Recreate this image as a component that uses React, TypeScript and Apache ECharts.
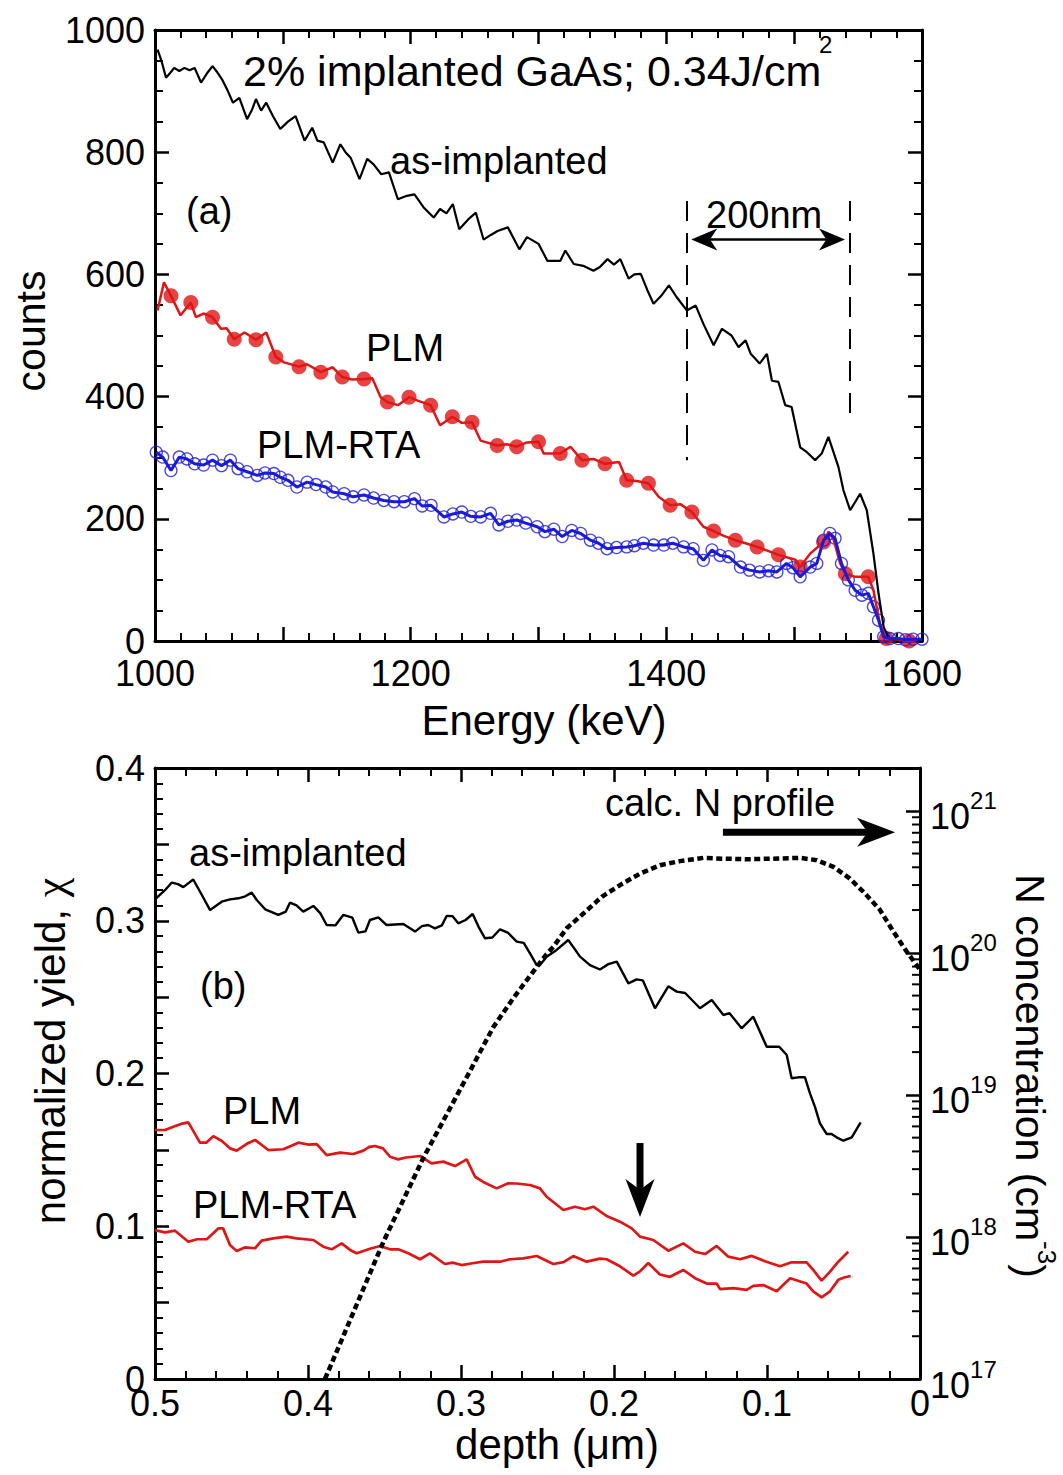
import React, { useEffect, useRef } from "react";
import * as echarts from "echarts";

const FONT = '"Liberation Sans", Arial, Helvetica, sans-serif';
const BLACK = "#000000";
const RED = "#e01515";
const BLUE = "#1a1ad8";

// ---------------- panel (a): RBS spectra ----------------
const ENERGY_AS = [1002, 1005, 1008.6, 1012, 1015, 1019, 1023, 1027, 1031, 1036, 1041, 1045, 1049, 1053, 1057, 1061, 1066, 1072, 1076, 1079, 1083, 1087, 1092, 1098, 1104, 1110, 1117, 1123, 1127, 1132, 1139, 1145, 1149, 1153, 1160, 1166, 1171, 1177, 1183, 1190, 1196, 1203, 1210, 1218, 1223, 1228, 1233, 1238, 1245, 1251, 1257, 1263, 1268, 1276, 1285, 1291, 1300, 1307, 1317, 1321, 1327.6, 1335, 1343, 1348, 1354, 1359, 1364, 1370.5, 1375, 1380, 1385, 1390, 1396, 1402, 1408, 1416, 1423, 1429, 1437, 1443.5, 1451, 1456.5, 1462, 1466, 1473, 1478.7, 1482.6, 1487.7, 1493, 1498, 1504.7, 1510, 1516.4, 1521.6, 1526.8, 1534.6, 1538.5, 1543.8, 1551.6, 1556.8, 1562, 1566, 1570, 1574, 1580, 1590, 1600];
const COUNTS_AS = [968, 950, 922, 930, 938, 933, 938, 934, 938, 914, 930, 941, 930, 917, 900, 881, 889, 854, 870, 887, 868, 881, 860, 838, 850, 859, 819, 840, 819, 816, 783, 813, 800, 791, 756, 789, 780, 764, 767, 723, 728, 731, 710, 693, 707, 700, 715, 674, 690, 701, 657, 665, 671, 677, 641, 661, 650, 622, 622, 639, 617, 614, 606, 612, 625, 616, 625, 593, 600, 601, 575, 552, 565, 582, 563, 541, 549, 519, 484, 511, 500, 481, 492, 470, 454, 470, 426, 424, 386, 383, 317, 309, 296, 307, 334, 285, 247, 214, 241, 214, 143, 78, 23, 4, 2, 1, 2];

const ENERGY_PLM = [1002, 1007, 1012.5, 1020, 1028, 1032, 1038, 1045, 1051.6, 1056, 1062, 1070, 1079, 1087, 1094.5, 1101, 1112.7, 1119, 1129.7, 1139, 1146.5, 1154, 1163.5, 1170, 1176.5, 1181.8, 1190, 1198.7, 1206, 1215.6, 1223, 1232.6, 1240, 1248, 1254.7, 1267.7, 1275, 1283, 1291, 1300, 1304, 1317, 1325, 1334, 1343, 1352, 1363, 1369, 1377, 1386, 1394, 1403, 1411, 1420, 1429, 1437, 1445, 1454, 1462, 1471, 1479, 1487.7, 1501, 1504.7, 1512.5, 1523, 1527, 1531, 1536, 1540, 1548, 1558, 1562, 1567, 1572, 1580, 1590, 1596];
const COUNTS_PLM = [541, 587, 565, 533, 554, 530, 536, 530, 511, 512, 494, 505, 493, 505, 465, 456, 449, 453, 440, 448, 432, 428, 429, 430, 399, 391, 386, 399, 393, 386, 353, 367, 357, 358, 328, 320, 322, 318, 325, 326, 307, 307, 318, 296, 298, 290, 293, 263, 262, 258, 236, 222, 224, 211, 187, 180, 172, 165, 160, 154, 148, 141, 133, 121, 143, 162, 179, 165, 127, 110, 105, 105, 83, 29, 4, 3, 0, 2];
const ENERGY_PLM_MARK = [1012.5, 1028, 1045, 1062, 1079, 1094.5, 1112.7, 1129.7, 1146.5, 1163.5, 1181.8, 1198.7, 1215.6, 1232.6, 1248, 1267.7, 1283, 1300, 1317, 1334, 1352, 1369, 1386, 1403, 1420, 1437, 1454, 1471, 1487.7, 1504.7, 1523, 1540, 1558, 1572, 1590];
const COUNTS_PLM_MARK = [565, 554, 530, 494, 493, 465, 449, 440, 432, 429, 391, 399, 386, 367, 358, 320, 318, 326, 307, 296, 290, 263, 258, 222, 211, 180, 165, 154, 141, 121, 162, 110, 105, 4, 0];

const ENERGY_RTA = [1001, 1006, 1012.5, 1019, 1025, 1031, 1038, 1045, 1052, 1059, 1065, 1072, 1080, 1086, 1093, 1098, 1104, 1111, 1119, 1126, 1133.6, 1139, 1148, 1155, 1163.5, 1171, 1179, 1187, 1195, 1203, 1209, 1216, 1226, 1233, 1240, 1247, 1254.7, 1262.5, 1269, 1276, 1283, 1290, 1299, 1305, 1312, 1318.5, 1326, 1333, 1340.6, 1347, 1353.6, 1361, 1369, 1375, 1382, 1390, 1398, 1405, 1413.5, 1421, 1429, 1435.7, 1442, 1448.7, 1458, 1465, 1473, 1480, 1486.5, 1494, 1499, 1504.7, 1512.5, 1517.7, 1523, 1528, 1532, 1537, 1542.4, 1547.7, 1553, 1558, 1562, 1566, 1570, 1575, 1581.5, 1587, 1593, 1600];
const COUNTS_RTA = [309, 301, 279, 301, 298, 290, 288, 296, 287, 296, 282, 277, 271, 275, 274, 268, 263, 252, 260, 256, 252, 244, 241, 236, 239, 234, 230, 228, 228, 233, 221, 222, 203, 208, 211, 204, 203, 209, 190, 196, 198, 193, 187, 179, 183, 171, 181, 176, 165, 160, 151, 153, 154, 156, 160, 157, 157, 160, 154, 151, 132, 149, 140, 138, 121, 116, 113, 115, 113, 127, 120, 105, 121, 127, 165, 176, 168, 127, 100, 83, 75, 78, 56, 34, 7, 4, 4, 2, 3, 3];

const TOP_X_LABELS = ["1000", "1200", "1400", "1600"];
const TOP_Y_LABELS = ["0", "200", "400", "600", "800", "1000"];
// "200nm" window markers (energy, counts)
const WINDOW_E = [1415.6, 1543.8];
const WINDOW_TOP = 720;
const WINDOW_BOTTOM = [296, 358];
// double arrow tips (energy, counts)
const SPAN_ARROW = [1419.5, 657, 1539.8, 657];

// ---------------- panel (b): normalized yield vs depth ----------------
const DEPTH_AS = [0.5, 0.4935, 0.489, 0.485, 0.4815, 0.475, 0.47, 0.464, 0.4564, 0.451, 0.4455, 0.441, 0.4368, 0.4335, 0.428, 0.4194, 0.4145, 0.4118, 0.4075, 0.4031, 0.3965, 0.392, 0.3878, 0.382, 0.377, 0.371, 0.3671, 0.3625, 0.3595, 0.354, 0.3486, 0.3377, 0.33, 0.3255, 0.3214, 0.317, 0.3125, 0.3094, 0.3055, 0.3018, 0.297, 0.2924, 0.2885, 0.2843, 0.2795, 0.2745, 0.2691, 0.2636, 0.259, 0.2549, 0.2505, 0.2484, 0.244, 0.2375, 0.2299, 0.2222, 0.2157, 0.2092, 0.2037, 0.1982, 0.1906, 0.1852, 0.1812, 0.1732, 0.1645, 0.159, 0.1535, 0.1438, 0.1361, 0.1285, 0.1245, 0.1166, 0.109, 0.1002, 0.092, 0.0871, 0.0839, 0.0795, 0.0752, 0.0719, 0.0686, 0.0654, 0.061, 0.0578, 0.0545, 0.0501, 0.0446, 0.0388];
const YIELD_AS = [0.314, 0.32, 0.325, 0.324, 0.322, 0.327, 0.318, 0.307, 0.3125, 0.314, 0.3147, 0.316, 0.3184, 0.3136, 0.3075, 0.3038, 0.306, 0.3118, 0.31, 0.306, 0.3097, 0.305, 0.2972, 0.297, 0.3038, 0.302, 0.2922, 0.293, 0.3005, 0.3022, 0.2972, 0.2979, 0.2929, 0.2965, 0.2972, 0.295, 0.297, 0.3031, 0.303, 0.2983, 0.3005, 0.3044, 0.296, 0.2885, 0.289, 0.2944, 0.292, 0.2863, 0.2855, 0.2787, 0.271, 0.271, 0.2765, 0.2809, 0.2874, 0.2765, 0.271, 0.2681, 0.2716, 0.2732, 0.259, 0.2616, 0.261, 0.2427, 0.2571, 0.2536, 0.2527, 0.2427, 0.2481, 0.2383, 0.2395, 0.2296, 0.2372, 0.2175, 0.2175, 0.2121, 0.1969, 0.1975, 0.1975, 0.187, 0.178, 0.1674, 0.1604, 0.1604, 0.1582, 0.156, 0.1582, 0.168];

const DEPTH_PLM = [0.5, 0.4935, 0.488, 0.483, 0.4782, 0.4706, 0.4665, 0.4619, 0.4565, 0.451, 0.4466, 0.44, 0.4346, 0.4259, 0.4161, 0.4063, 0.4, 0.3943, 0.3878, 0.3791, 0.3704, 0.3638, 0.36, 0.3562, 0.351, 0.3464, 0.341, 0.336, 0.3268, 0.3192, 0.3116, 0.3039, 0.2963, 0.2908, 0.2855, 0.2767, 0.2691, 0.2636, 0.2549, 0.2484, 0.244, 0.2331, 0.2255, 0.219, 0.2135, 0.2048, 0.1961, 0.1884, 0.183, 0.1743, 0.1645, 0.1547, 0.147, 0.1405, 0.1329, 0.1253, 0.1176, 0.11, 0.1013, 0.0915, 0.0839, 0.0741, 0.0698, 0.0643, 0.0588, 0.0534, 0.0469];
const YIELD_PLM = [0.163, 0.163, 0.1652, 0.167, 0.168, 0.1547, 0.1547, 0.159, 0.156, 0.151, 0.1495, 0.154, 0.1565, 0.1499, 0.1504, 0.1547, 0.1535, 0.1538, 0.1466, 0.1482, 0.1473, 0.1495, 0.152, 0.1525, 0.151, 0.1455, 0.1438, 0.145, 0.146, 0.1412, 0.1423, 0.1394, 0.1438, 0.1324, 0.129, 0.1248, 0.1281, 0.128, 0.127, 0.1248, 0.1193, 0.1106, 0.1128, 0.1111, 0.1128, 0.1067, 0.103, 0.0986, 0.0932, 0.091, 0.084, 0.0888, 0.0833, 0.0818, 0.0871, 0.0801, 0.0784, 0.0806, 0.0771, 0.0738, 0.0764, 0.0764, 0.0714, 0.0644, 0.0703, 0.0768, 0.0833];

const DEPTH_RTA = [0.5, 0.4935, 0.4869, 0.4782, 0.4725, 0.4662, 0.4586, 0.4555, 0.451, 0.4466, 0.441, 0.4346, 0.4303, 0.4227, 0.414, 0.4075, 0.3965, 0.39, 0.3845, 0.378, 0.3725, 0.3682, 0.3595, 0.3529, 0.3464, 0.341, 0.3344, 0.3268, 0.3203, 0.3105, 0.3055, 0.2995, 0.2925, 0.2854, 0.2745, 0.268, 0.2593, 0.2505, 0.2397, 0.233, 0.2266, 0.2179, 0.2092, 0.2048, 0.1961, 0.1874, 0.1832, 0.1776, 0.17, 0.1634, 0.1547, 0.147, 0.1394, 0.1329, 0.1307, 0.122, 0.1133, 0.109, 0.1024, 0.0937, 0.0849, 0.0741, 0.0698, 0.0643, 0.0588, 0.0534, 0.0491, 0.0453];
const YIELD_RTA = [0.0975, 0.096, 0.0971, 0.0899, 0.0915, 0.0915, 0.0986, 0.0986, 0.0877, 0.0838, 0.0862, 0.0856, 0.0906, 0.0921, 0.0932, 0.0921, 0.091, 0.0866, 0.0849, 0.0888, 0.0845, 0.0823, 0.0853, 0.0871, 0.0849, 0.0849, 0.0823, 0.0784, 0.0823, 0.0753, 0.0762, 0.0746, 0.0758, 0.0768, 0.0768, 0.0784, 0.079, 0.0805, 0.0753, 0.0765, 0.0805, 0.0768, 0.0788, 0.0784, 0.0738, 0.0677, 0.0703, 0.0759, 0.0684, 0.0669, 0.0714, 0.066, 0.0625, 0.0625, 0.0589, 0.0595, 0.0584, 0.061, 0.0615, 0.0574, 0.066, 0.0625, 0.0574, 0.0535, 0.0574, 0.0649, 0.0666, 0.0674];

const DEPTH_N = [0.3889, 0.3508, 0.3246, 0.2952, 0.2789, 0.2658, 0.2527, 0.244, 0.2397, 0.2309, 0.22, 0.208, 0.196, 0.183, 0.1699, 0.1569, 0.1416, 0.1286, 0.1133, 0.0959, 0.0784, 0.0675, 0.0566, 0.0458, 0.036, 0.0261, 0.0174, 0.0087, 0.0];
const CONC_N = [1.0e17, 9.2e17, 3.6e18, 1.4e19, 3.0e19, 4.8e19, 7.4e19, 9.8e19, 1.1e20, 1.49e20, 1.89e20, 2.48e20, 3.0e20, 3.61e20, 4.14e20, 4.42e20, 4.66e20, 4.6e20, 4.56e20, 4.6e20, 4.66e20, 4.49e20, 4.03e20, 3.33e20, 2.62e20, 2.0e20, 1.41e20, 1.02e20, 7.6e19];

const BOTTOM_X_LABELS = ["0", "0.1", "0.2", "0.3", "0.4", "0.5"];
const BOTTOM_Y_LABELS = ["0", "0.1", "0.2", "0.3", "0.4"];
const LOG_DECADES = [17, 18, 19, 20, 21];
const LOG_MINOR_MANTISSA = [2, 3, 4, 5, 6, 7, 8, 9];

// annotation arrows in panel (b): [depth tail, yield tail, depth tip, yield tip]
const N_ARROW = [0.1288, 0.358, 0.0163, 0.358];
const DOWN_ARROW = [0.183, 0.1545, 0.183, 0.106];

// arrow drawing styles (pixels), kept apart from the data
const ARROW_STYLES = {
  span: { head: 26, half: 11, shaft: 2.5, both: true },
  bold: { head: 38, half: 14.5, shaft: 7, both: false },
};

const zip = (a: number[], b: number[]) => a.map((x, i) => [x, b[i]]);

const axisLine = { show: true, onZero: false, lineStyle: { color: BLACK, width: 3 } };
const majorTick = { show: true, inside: true, length: 14, lineStyle: { color: BLACK, width: 2.5 } };
const minorTick = (n: number) => ({ show: true, splitNumber: n, length: 8, lineStyle: { color: BLACK, width: 2 } });
const labelBase = { color: BLACK, fontSize: 36, fontFamily: FONT };

function txt(text: string, x: number, y: number, size: number, align = "left", rotation = 0) {
  return {
    type: "text",
    x,
    y,
    rotation,
    silent: true,
    style: {
      text,
      fontSize: size,
      fontFamily: FONT,
      fill: BLACK,
      textAlign: align,
      textVerticalAlign: "middle",
      align,
      verticalAlign: "middle",
    },
  };
}

function arrowRenderer(style: { head: number; half: number; shaft: number; both: boolean }) {
  return (_p: any, api: any) => {
    const a = api.coord([api.value(0), api.value(1)]);
    const b = api.coord([api.value(2), api.value(3)]);
    const dx = b[0] - a[0];
    const dy = b[1] - a[1];
    const len = Math.sqrt(dx * dx + dy * dy) || 1;
    const ux = dx / len;
    const uy = dy / len;
    const nx = -uy;
    const ny = ux;
    const head = (tip: number[], sx: number, sy: number) => {
      const bx = tip[0] - sx * style.head;
      const by = tip[1] - sy * style.head;
      return {
        type: "polygon",
        shape: {
          points: [
            [tip[0], tip[1]],
            [bx + nx * style.half, by + ny * style.half],
            [tip[0] - sx * style.head * 0.72, tip[1] - sy * style.head * 0.72],
            [bx - nx * style.half, by - ny * style.half],
          ],
        },
        style: { fill: BLACK, stroke: null },
      };
    };
    const inset = style.head * 0.6;
    const start = style.both ? [a[0] + ux * inset, a[1] + uy * inset] : a;
    const end = [b[0] - ux * inset, b[1] - uy * inset];
    const children: any[] = [
      {
        type: "line",
        shape: { x1: start[0], y1: start[1], x2: end[0], y2: end[1] },
        style: { stroke: BLACK, lineWidth: style.shaft, lineCap: "butt" },
      },
      head(b, ux, uy),
    ];
    if (style.both) children.push(head(a, -ux, -uy));
    return { type: "group", children };
  };
}

function buildOption() {
  const minorLogTicks: number[][] = [];
  LOG_DECADES.slice(0, -1).forEach((e) => LOG_MINOR_MANTISSA.forEach((m) => minorLogTicks.push([0, m * Math.pow(10, e)])));

  return {
    animation: false,
    backgroundColor: "#ffffff",
    grid: [
      { left: 155, top: 30, width: 767, height: 611 },
      { left: 155, top: 768, width: 765, height: 611 },
    ],
    xAxis: [
      {
        type: "value", gridIndex: 0, position: "bottom", min: 1000, max: 1600, interval: 100,
        axisLine, axisTick: majorTick, minorTick: minorTick(5), splitLine: { show: false },
        axisLabel: { ...labelBase, lineHeight: 24, margin: 20, formatter: (v: number) => (TOP_X_LABELS.includes(String(v)) ? String(v) : "") },
      },
      {
        type: "value", gridIndex: 0, position: "top", min: 1000, max: 1600, interval: 100,
        axisLine, axisTick: majorTick, minorTick: minorTick(5), splitLine: { show: false }, axisLabel: { show: false },
      },
      {
        type: "value", gridIndex: 1, position: "bottom", min: 0, max: 0.5, interval: 0.1, inverse: true,
        axisLine, axisTick: majorTick, minorTick: minorTick(5), splitLine: { show: false },
        axisLabel: {
          ...labelBase, lineHeight: 24, margin: 12,
          formatter: (v: number) => { const s = String(+v.toFixed(2)); return BOTTOM_X_LABELS.includes(s) ? s : ""; },
        },
      },
      {
        type: "value", gridIndex: 1, position: "top", min: 0, max: 0.5, interval: 0.1, inverse: true,
        axisLine, axisTick: majorTick, minorTick: minorTick(5), splitLine: { show: false }, axisLabel: { show: false },
      },
    ],
    yAxis: [
      {
        type: "value", gridIndex: 0, position: "left", min: 0, max: 1000, interval: 200,
        axisLine, axisTick: majorTick, minorTick: minorTick(4), splitLine: { show: false },
        axisLabel: { ...labelBase, lineHeight: 20, margin: 10, formatter: (v: number) => (TOP_Y_LABELS.includes(String(v)) ? String(v) : "") },
      },
      {
        type: "value", gridIndex: 0, position: "right", min: 0, max: 1000, interval: 200,
        axisLine, axisTick: majorTick, minorTick: minorTick(4), splitLine: { show: false }, axisLabel: { show: false },
      },
      {
        type: "value", gridIndex: 1, position: "left", min: 0, max: 0.4, interval: 0.05,
        axisLine, axisTick: majorTick, minorTick: minorTick(5), splitLine: { show: false },
        axisLabel: {
          ...labelBase, lineHeight: 20, margin: 10,
          formatter: (v: number) => { const s = String(+v.toFixed(2)); return BOTTOM_Y_LABELS.includes(s) ? s : ""; },
        },
      },
      {
        type: "log", logBase: 10, gridIndex: 1, position: "right", min: 1e17, max: 2e21,
        axisLine, axisTick: majorTick, splitLine: { show: false }, minorTick: { show: false },
        axisLabel: {
          show: true, margin: 10, padding: [12, 0, 0, 0],
          formatter: (v: number) => {
            const l = Math.log10(v);
            const e = Math.round(l);
            if (Math.abs(l - e) > 1e-6 || !LOG_DECADES.includes(e)) return "";
            return "{b|10}{s|" + e + "}";
          },
          rich: {
            b: { fontSize: 36, fontFamily: FONT, color: BLACK, lineHeight: 56 },
            s: { fontSize: 24, fontFamily: FONT, color: BLACK, lineHeight: 24, verticalAlign: "top" },
          },
        },
      },
    ],
    series: [
      {
        name: "as-implanted (a)", type: "line", xAxisIndex: 0, yAxisIndex: 0, data: zip(ENERGY_AS, COUNTS_AS),
        showSymbol: false, symbol: "none", lineStyle: { color: BLACK, width: 2.2 }, itemStyle: { color: BLACK },
        markLine: {
          silent: true, animation: false, symbol: ["none", "none"], label: { show: false },
          lineStyle: { color: BLACK, width: 2, type: [20, 12] },
          data: [
            [{ coord: [WINDOW_E[0], WINDOW_TOP] }, { coord: [WINDOW_E[0], WINDOW_BOTTOM[0]] }],
            [{ coord: [WINDOW_E[1], WINDOW_TOP] }, { coord: [WINDOW_E[1], WINDOW_BOTTOM[1]] }],
          ],
        },
      },
      {
        name: "200nm arrow", type: "custom", xAxisIndex: 0, yAxisIndex: 0, data: [SPAN_ARROW], silent: true, clip: false,
        renderItem: arrowRenderer(ARROW_STYLES.span),
      },
      {
        name: "PLM (a)", type: "line", xAxisIndex: 0, yAxisIndex: 0, data: zip(ENERGY_PLM, COUNTS_PLM),
        showSymbol: false, symbol: "none", lineStyle: { color: RED, width: 2.5 }, itemStyle: { color: RED },
      },
      {
        name: "PLM markers", type: "scatter", xAxisIndex: 0, yAxisIndex: 0, data: zip(ENERGY_PLM_MARK, COUNTS_PLM_MARK),
        symbol: "circle", symbolSize: 15, clip: false, itemStyle: { color: RED },
      },
      {
        name: "PLM-RTA (a)", type: "line", xAxisIndex: 0, yAxisIndex: 0, data: zip(ENERGY_RTA, COUNTS_RTA),
        showSymbol: false, symbol: "none", lineStyle: { color: BLUE, width: 3 }, itemStyle: { color: BLUE },
      },
      {
        name: "PLM-RTA markers", type: "scatter", xAxisIndex: 0, yAxisIndex: 0, data: zip(ENERGY_RTA, COUNTS_RTA),
        symbol: "circle", symbolSize: 12, clip: false,
        itemStyle: { color: "rgba(0,0,0,0)", borderColor: BLUE, borderWidth: 1.3 },
      },
      {
        name: "as-implanted (b)", type: "line", xAxisIndex: 2, yAxisIndex: 2, data: zip(DEPTH_AS, YIELD_AS),
        showSymbol: false, symbol: "none", lineStyle: { color: BLACK, width: 2.4 }, itemStyle: { color: BLACK },
      },
      {
        name: "PLM (b)", type: "line", xAxisIndex: 2, yAxisIndex: 2, data: zip(DEPTH_PLM, YIELD_PLM),
        showSymbol: false, symbol: "none", lineStyle: { color: RED, width: 2.7 }, itemStyle: { color: RED },
      },
      {
        name: "PLM-RTA (b)", type: "line", xAxisIndex: 2, yAxisIndex: 2, data: zip(DEPTH_RTA, YIELD_RTA),
        showSymbol: false, symbol: "none", lineStyle: { color: RED, width: 2.7 }, itemStyle: { color: RED },
      },
      {
        name: "annotation arrows (b)", type: "custom", xAxisIndex: 2, yAxisIndex: 2, data: [N_ARROW, DOWN_ARROW], silent: true, clip: false,
        renderItem: arrowRenderer(ARROW_STYLES.bold),
      },
      {
        name: "calc. N profile", type: "line", xAxisIndex: 2, yAxisIndex: 3, data: zip(DEPTH_N, CONC_N),
        showSymbol: false, symbol: "none", clip: false,
        lineStyle: { color: BLACK, width: 4.5, type: [6, 3.5], cap: "butt" }, itemStyle: { color: BLACK },
      },
      {
        name: "log minor ticks", type: "custom", xAxisIndex: 2, yAxisIndex: 3, data: minorLogTicks, silent: true, clip: false,
        renderItem: (_p: any, api: any) => {
          const pt = api.coord([api.value(0), api.value(1)]);
          return {
            type: "line",
            shape: { x1: pt[0] - 8, y1: pt[1], x2: pt[0], y2: pt[1] },
            style: { stroke: BLACK, lineWidth: 2 },
          };
        },
      },
    ],
    graphic: [
      txt("2% implanted GaAs; 0.34J/cm", 243, 71, 43),
      txt("2", 819, 44, 24),
      txt("as-implanted", 390, 161, 38),
      txt("(a)", 186, 211, 38),
      txt("200nm", 706, 215, 38),
      txt("PLM", 366, 348, 38),
      txt("PLM-RTA", 257, 445, 38),
      txt("counts", 31, 331, 41, "center", Math.PI / 2),
      txt("Energy (keV)", 544, 720, 42, "center"),
      txt("as-implanted", 189, 853, 38),
      txt("(b)", 200, 986, 38),
      txt("PLM", 223, 1111, 38),
      txt("PLM-RTA", 193, 1205, 38),
      txt("calc. N profile", 605, 803, 38),
      txt("depth (\u03bcm)", 557, 1444, 42, "center"),
      {
        type: "text", x: 50, y: 1051, rotation: Math.PI / 2, silent: true,
        style: {
          text: "{a|normalized yield, }{c|\u03c7}",
          fill: BLACK, textAlign: "center", textVerticalAlign: "middle", align: "center", verticalAlign: "middle",
          rich: {
            a: { fontSize: 42, fontFamily: FONT, fill: BLACK, color: BLACK },
            c: { fontSize: 44, fontFamily: '"Liberation Serif", "DejaVu Serif", serif', fill: BLACK, color: BLACK },
          },
        },
      },
      {
        type: "text", x: 1030, y: 1076, rotation: -Math.PI / 2, silent: true,
        style: {
          text: "{a|N concentration (cm}{s|-3}{a|)}",
          fill: BLACK, textAlign: "center", textVerticalAlign: "middle", align: "center", verticalAlign: "middle",
          rich: {
            a: { fontSize: 41, fontFamily: FONT, fill: BLACK, color: BLACK, lineHeight: 60 },
            s: { fontSize: 26, fontFamily: FONT, fill: BLACK, color: BLACK, lineHeight: 26, verticalAlign: "top" },
          },
        },
      },
    ],
  };
}

export default function App() {
  const ref = useRef<HTMLDivElement>(null);
  useEffect(() => {
    document.body.style.margin = "0";
    const chart = echarts.init(ref.current as HTMLDivElement, undefined, { renderer: "svg" });
    chart.setOption(buildOption() as any);
    return () => chart.dispose();
  }, []);
  return <div ref={ref} style={{ width: 1063, height: 1475 }} />;
}
